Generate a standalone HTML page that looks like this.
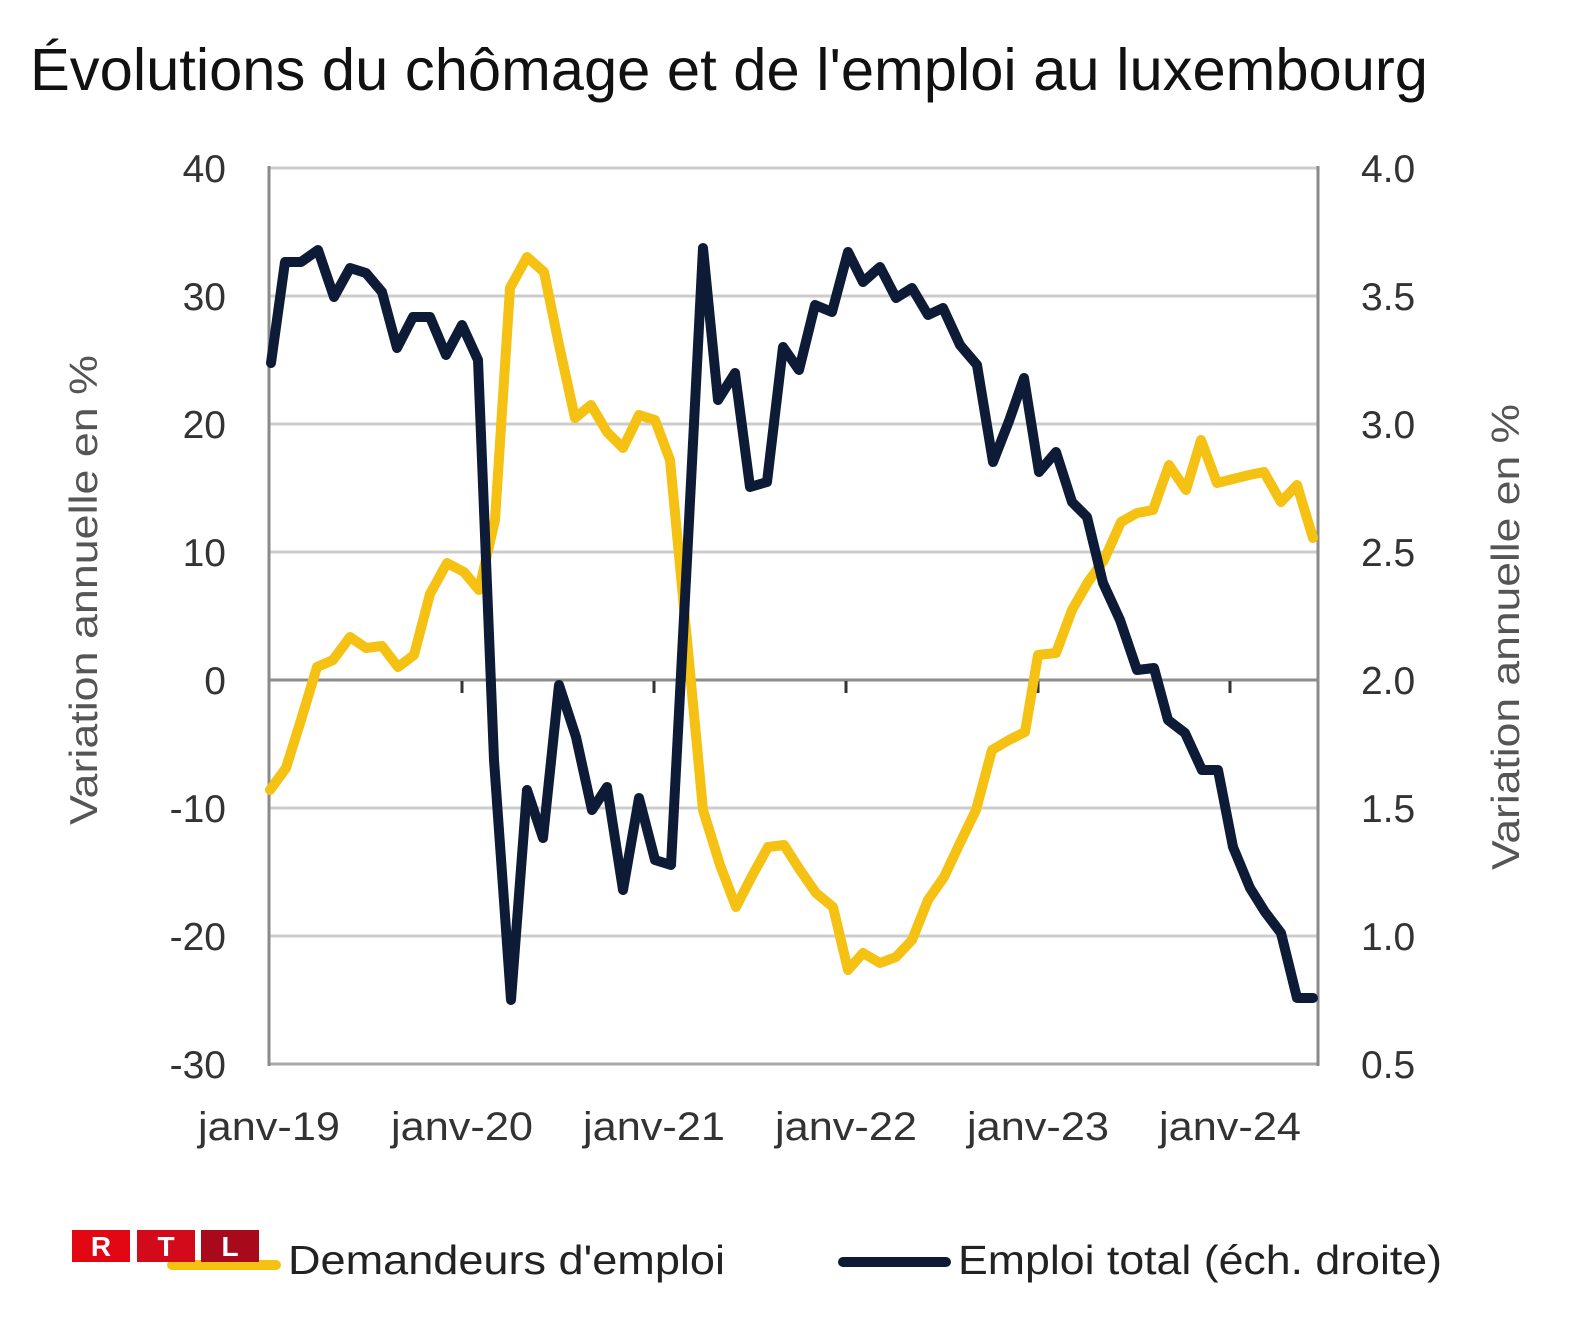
<!DOCTYPE html>
<html>
<head>
<meta charset="utf-8">
<style>
  html, body { margin:0; padding:0; background:#ffffff; }
  body { width:1572px; height:1338px; overflow:hidden; }
  svg { display:block; }
</style>
</head>
<body>
<svg width="1572" height="1338" viewBox="0 0 1572 1338" xmlns="http://www.w3.org/2000/svg">
  <rect x="0" y="0" width="1572" height="1338" fill="#ffffff"/>

  <!-- Title -->
  <text x="30" y="90" font-family="Liberation Sans, Arial, sans-serif" font-size="59" fill="#111" textLength="1398" lengthAdjust="spacingAndGlyphs">Évolutions du chômage et de l'emploi au luxembourg</text>

  <!-- Gridlines -->
  <g stroke="#cccccc" stroke-width="3">
    <line x1="269" y1="168" x2="1318" y2="168"/>
    <line x1="269" y1="296" x2="1318" y2="296"/>
    <line x1="269" y1="424" x2="1318" y2="424"/>
    <line x1="269" y1="552" x2="1318" y2="552"/>
    <line x1="269" y1="808" x2="1318" y2="808"/>
    <line x1="269" y1="936" x2="1318" y2="936"/>
  </g>
  <!-- Bottom border -->
  <line x1="269" y1="1064" x2="1318" y2="1064" stroke="#a8a8a8" stroke-width="3"/>
  <!-- Axis lines -->
  <line x1="269" y1="166" x2="269" y2="1066" stroke="#8a8a8a" stroke-width="3"/>
  <line x1="1318" y1="166" x2="1318" y2="1066" stroke="#8a8a8a" stroke-width="3"/>
  <!-- Zero line -->
  <line x1="269" y1="680" x2="1318" y2="680" stroke="#8c8c8c" stroke-width="3"/>
  <!-- X ticks -->
  <g stroke="#333" stroke-width="3">
    <line x1="462" y1="681" x2="462" y2="693"/>
    <line x1="654" y1="681" x2="654" y2="693"/>
    <line x1="846" y1="681" x2="846" y2="693"/>
    <line x1="1038" y1="681" x2="1038" y2="693"/>
    <line x1="1230" y1="681" x2="1230" y2="693"/>
  </g>

  <!-- Left tick labels -->
  <g font-family="Liberation Sans, Arial, sans-serif" font-size="39" fill="#333" text-anchor="end">
    <text x="226" y="182">40</text>
    <text x="226" y="310">30</text>
    <text x="226" y="438">20</text>
    <text x="226" y="566">10</text>
    <text x="226" y="694">0</text>
    <text x="226" y="822">-10</text>
    <text x="226" y="950">-20</text>
    <text x="226" y="1078">-30</text>
  </g>
  <!-- Right tick labels -->
  <g font-family="Liberation Sans, Arial, sans-serif" font-size="39" fill="#333" text-anchor="start">
    <text x="1361" y="182">4.0</text>
    <text x="1361" y="310">3.5</text>
    <text x="1361" y="438">3.0</text>
    <text x="1361" y="566">2.5</text>
    <text x="1361" y="694">2.0</text>
    <text x="1361" y="822">1.5</text>
    <text x="1361" y="950">1.0</text>
    <text x="1361" y="1078">0.5</text>
  </g>
  <!-- X labels -->
  <g font-family="Liberation Sans, Arial, sans-serif" font-size="40" fill="#333" text-anchor="middle">
    <text x="269" y="1140" textLength="142" lengthAdjust="spacingAndGlyphs">janv-19</text>
    <text x="462" y="1140" textLength="142" lengthAdjust="spacingAndGlyphs">janv-20</text>
    <text x="654" y="1140" textLength="142" lengthAdjust="spacingAndGlyphs">janv-21</text>
    <text x="846" y="1140" textLength="142" lengthAdjust="spacingAndGlyphs">janv-22</text>
    <text x="1038" y="1140" textLength="142" lengthAdjust="spacingAndGlyphs">janv-23</text>
    <text x="1230" y="1140" textLength="142" lengthAdjust="spacingAndGlyphs">janv-24</text>
  </g>

  <!-- Axis titles -->
  <text transform="translate(97,590) rotate(-90)" font-family="Liberation Sans, Arial, sans-serif" font-size="39" fill="#555" text-anchor="middle" textLength="470" lengthAdjust="spacingAndGlyphs">Variation annuelle en %</text>
  <text transform="translate(1519,637) rotate(-90)" font-family="Liberation Sans, Arial, sans-serif" font-size="39" fill="#555" text-anchor="middle" textLength="466" lengthAdjust="spacingAndGlyphs">Variation annuelle en %</text>

  <!-- Yellow series: Demandeurs d'emploi -->
  <polyline fill="none" stroke="#f5c112" stroke-width="10" stroke-linejoin="round" stroke-linecap="round"
    points="270,790 286,768 301,720 317,667 333,660 350,637 366,648 382,646 398,667 414,655 430,594 447,563 464,572 479,590 495,520 510,288 527,257 544,272 559,345 575,418 591,405 607,432 623,448 639,415 655,420 670,460 687,640 703,810 720,865 736,907 752,876 768,847 784,845 800,870 816,893 833,907 848,970 863,953 880,963 896,957 912,940 928,900 944,877 960,843 976,810 992,750 1009,740 1025,732 1038,655 1056,653 1072,610 1088,582 1104,560 1121,522 1137,513 1153,510 1169,465 1186,490 1201,440 1217,483 1233,479 1249,475 1264,472 1281,502 1297,485 1313,538"/>

  <!-- Navy series: Emploi total -->
  <polyline fill="none" stroke="#0d1b36" stroke-width="10" stroke-linejoin="round" stroke-linecap="round"
    points="271,363 285,262 301,262 318,250 334,297 350,268 366,273 382,292 397,348 413,317 430,317 446,355 462,325 478,360 494,760 511,1000 527,790 543,838 559,685 576,737 592,810 607,787 623,890 639,798 655,860 671,865 687,560 703,248 718,400 735,373 750,487 767,482 783,347 799,370 815,305 832,312 848,252 863,282 880,267 896,298 912,288 928,315 943,308 960,345 977,365 993,462 1009,421 1024,378 1039,472 1056,452 1072,502 1087,517 1103,583 1120,620 1137,670 1154,668 1168,720 1185,733 1202,770 1218,770 1233,847 1250,888 1265,912 1281,933 1297,998 1313,998"/>

  <!-- Legend -->
  <line x1="172" y1="1265" x2="276" y2="1265" stroke="#f5c112" stroke-width="10" stroke-linecap="round"/>
  <rect x="72" y="1230" width="58" height="32" fill="#e30613"/>
  <rect x="137" y="1230" width="58" height="32" fill="#d20a1a"/>
  <rect x="201" y="1230" width="58" height="32" fill="#a80a1c"/>
  <g font-family="Liberation Sans, Arial, sans-serif" font-size="28" font-weight="bold" fill="#ffffff" text-anchor="middle">
    <text x="101" y="1256">R</text>
    <text x="166" y="1256">T</text>
    <text x="230" y="1256">L</text>
  </g>
  <text x="288" y="1274" font-family="Liberation Sans, Arial, sans-serif" font-size="41" fill="#222" textLength="437" lengthAdjust="spacingAndGlyphs">Demandeurs d'emploi</text>

  <line x1="843" y1="1262" x2="946" y2="1262" stroke="#0d1b36" stroke-width="10" stroke-linecap="round"/>
  <text x="958" y="1274" font-family="Liberation Sans, Arial, sans-serif" font-size="41" fill="#222" textLength="484" lengthAdjust="spacingAndGlyphs">Emploi total (éch. droite)</text>
</svg>
</body>
</html>
